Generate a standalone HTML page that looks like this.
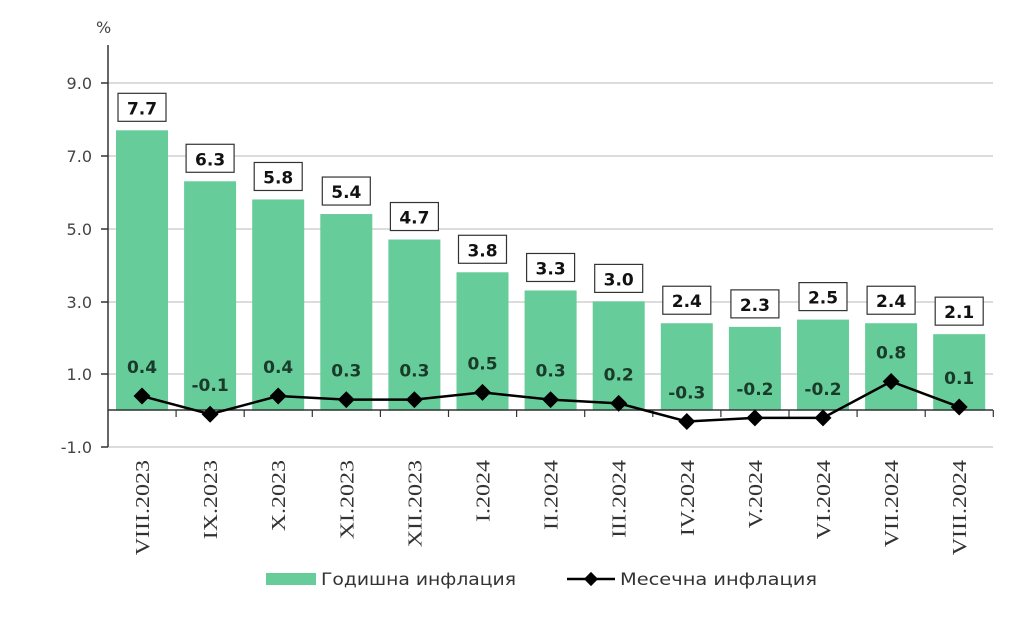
<!DOCTYPE html>
<html><head><meta charset="utf-8"><style>body{margin:0;background:#fff}</style></head><body>
<svg width="1024" height="617" xmlns="http://www.w3.org/2000/svg" font-family="'DejaVu Sans','Liberation Sans',sans-serif">
<text x="96" y="33" font-size="16" fill="#444">%</text>
<g stroke="#d0d0d0" stroke-width="1.5">
<line x1="108" y1="83" x2="993" y2="83"/><line x1="108" y1="156" x2="993" y2="156"/><line x1="108" y1="229" x2="993" y2="229"/><line x1="108" y1="302" x2="993" y2="302"/><line x1="108" y1="374" x2="993" y2="374"/><line x1="108" y1="447" x2="993" y2="447"/>
</g>
<g font-size="16" fill="#444" text-anchor="end">
<text x="92" y="89">9.0</text><text x="92" y="162">7.0</text><text x="92" y="235">5.0</text><text x="92" y="308">3.0</text><text x="92" y="380">1.0</text><text x="92" y="453">-1.0</text>
</g>
<g id="bars" fill="#66cc99"></g>
<line x1="108" y1="410" x2="993" y2="410" stroke="#333" stroke-width="1.5"/>
<line x1="108" y1="45" x2="108" y2="447" stroke="#333" stroke-width="1.5"/>
<g stroke="#333" stroke-width="1.5">
<line x1="101" y1="83" x2="108" y2="83"/><line x1="101" y1="156" x2="108" y2="156"/><line x1="101" y1="229" x2="108" y2="229"/><line x1="101" y1="302" x2="108" y2="302"/><line x1="101" y1="374" x2="108" y2="374"/><line x1="101" y1="447" x2="108" y2="447"/>
</g>
<g id="ticks" stroke="#333" stroke-width="1.2"></g>
<g id="boxes"></g>
<polyline id="line" fill="none" stroke="#000" stroke-width="2.5"/>
<g id="pts"></g>
<g id="xl" font-family="'Liberation Serif',serif" font-size="20" fill="#333"></g>
<rect x="266" y="573" width="50" height="12" fill="#66cc99"/>
<text x="321" y="585" font-size="17" fill="#333" textLength="195" lengthAdjust="spacingAndGlyphs">Годишна инфлация</text>
<line x1="567" y1="579" x2="615" y2="579" stroke="#000" stroke-width="2.5"/>
<rect x="586" y="574" width="10" height="10" transform="rotate(45 591 579)" fill="#000"/>
<text x="620" y="585" font-size="17" fill="#333" textLength="197" lengthAdjust="spacingAndGlyphs">Месечна инфлация</text>
</svg>
<script>
const ann=[7.7,6.3,5.8,5.4,4.7,3.8,3.3,3.0,2.4,2.3,2.5,2.4,2.1];
const mon=[0.4,-0.1,0.4,0.3,0.3,0.5,0.3,0.2,-0.3,-0.2,-0.2,0.8,0.1];
const lab=["VIII.2023","IX.2023","X.2023","XI.2023","XII.2023","I.2024","II.2024","III.2024","IV.2024","V.2024","VI.2024","VII.2024","VIII.2024"];
const Y=v=>410.6-v*36.4;const ns="http://www.w3.org/2000/svg";
function el(p,t,a,txt){const e=document.createElementNS(ns,t);for(const k in a)e.setAttribute(k,a[k]);if(txt!=null)e.textContent=txt;document.getElementById(p).appendChild(e);return e;}
let pts=[];
ann.forEach((v,i)=>{const c=142+i*68.1;
el("bars","rect",{x:c-26,y:Y(v),width:52,height:410.6-Y(v)});
el("ticks","line",{x1:108+(i+1)*68.1,y1:410,x2:108+(i+1)*68.1,y2:417});
const by=Y(v)-37;
el("boxes","rect",{x:c-24,y:by,width:48,height:28,fill:"#fff",stroke:"#333","stroke-width":1.2});
el("boxes","text",{x:c,y:by+21,"font-size":17,"font-weight":"bold","text-anchor":"middle",fill:"#111"},v.toFixed(1));
const my=Y(mon[i]);pts.push(c+","+my);
el("pts","rect",{x:c-6,y:my-6,width:12,height:12,transform:`rotate(45 ${c} ${my})`,fill:"#000"});
el("boxes","text",{x:c,y:my-23,"font-size":17,"font-weight":"bold","text-anchor":"middle",fill:"#1a3a2a"},mon[i].toFixed(1));
el("xl","text",{transform:`translate(${c+7},460) rotate(-90) scale(1.2,1)`,"text-anchor":"end"},lab[i]);
});
document.getElementById("line").setAttribute("points",pts.join(" "));
</script>
</body></html>
